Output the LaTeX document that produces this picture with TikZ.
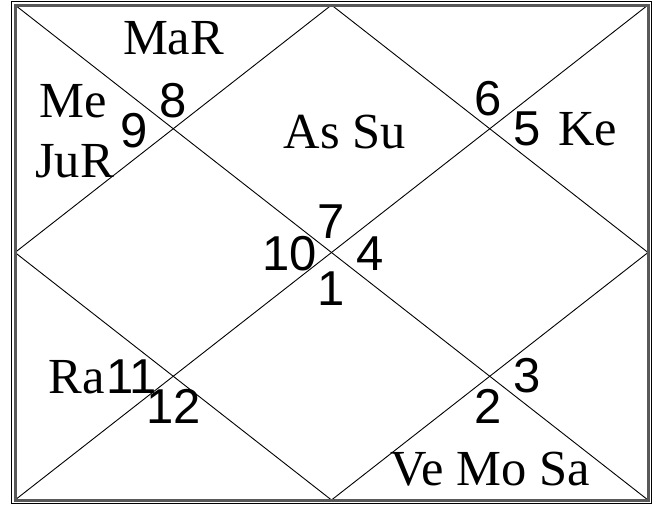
\documentclass[tikz,border=0pt]{standalone}
\usepackage{fontspec}
\newfontfamily\chartserif{Liberation Serif}
\newfontfamily\chartsans{Liberation Sans}
\begin{document}
\begin{tikzpicture}[x=1pt,y=-1pt,
  num/.style={font=\chartsans\fontsize{49}{49}\selectfont, anchor=base, inner sep=0pt},
  planet/.style={font=\chartserif\fontsize{50.5}{50.5}\selectfont, anchor=base, inner sep=0pt},
  gridline/.style={draw=black, line width=0.9pt},
  outerframe/.style={draw=black, line width=1pt},
  innerframe/.style={draw=black!65, line width=3pt}]
\useasboundingbox (0,0) rectangle (656,504);
\fill[white] (0,0) rectangle (656,504);
% frame corners
\coordinate (tl) at (15,5);
\coordinate (tr) at (648,5);
\coordinate (bl) at (15,500);
\coordinate (br) at (648,500);
\coordinate (tm) at (331.5,5);
\coordinate (bm) at (331.5,500);
\coordinate (lm) at (15,252.5);
\coordinate (rm) at (648,252.5);
% diagonals and diamond
\draw[gridline] (tl) -- (br);
\draw[gridline] (tr) -- (bl);
\draw[gridline] (tm) -- (rm) -- (bm) -- (lm) -- cycle;
% frames
\draw[outerframe] (11,1) rectangle (651,503);
\draw[innerframe] (tl) rectangle (br);
% house numbers
\node[num] (n8) at (173.5,117) {8};
\node[num] (n9) at (134.5,147) {9};
\node[num] (n7) at (331.5,238) {7};
\node[num] (n10) at (290,270) {10};
\node[num] (n4) at (370,270) {4};
\node[num] (n1) at (331.5,305) {1};
\node[num] (n6) at (488.5,115) {6};
\node[num] (n5) at (527.5,145) {5};
\node[num] (n11) at (131.5,393) {11};
\node[num] (n12) at (174,423) {12};
\node[num] (n3) at (527.5,392) {3};
\node[num] (n2) at (488.5,423) {2};
% planets
\node[planet] (p8) at (173.5,54) {MaR};
\node[planet] (p9a) at (73,117) {Me};
\node[planet] (p9b) at (74.5,177) {JuR};
\node[planet] (p7) at (345,148) {As Su};
\node[planet] (p5) at (587.5,145) {Ke};
\node[planet] (p11) at (76.5,393) {Ra};
\node[planet] (p2) at (490.5,485) {Ve Mo Sa};
\end{tikzpicture}
\end{document}
